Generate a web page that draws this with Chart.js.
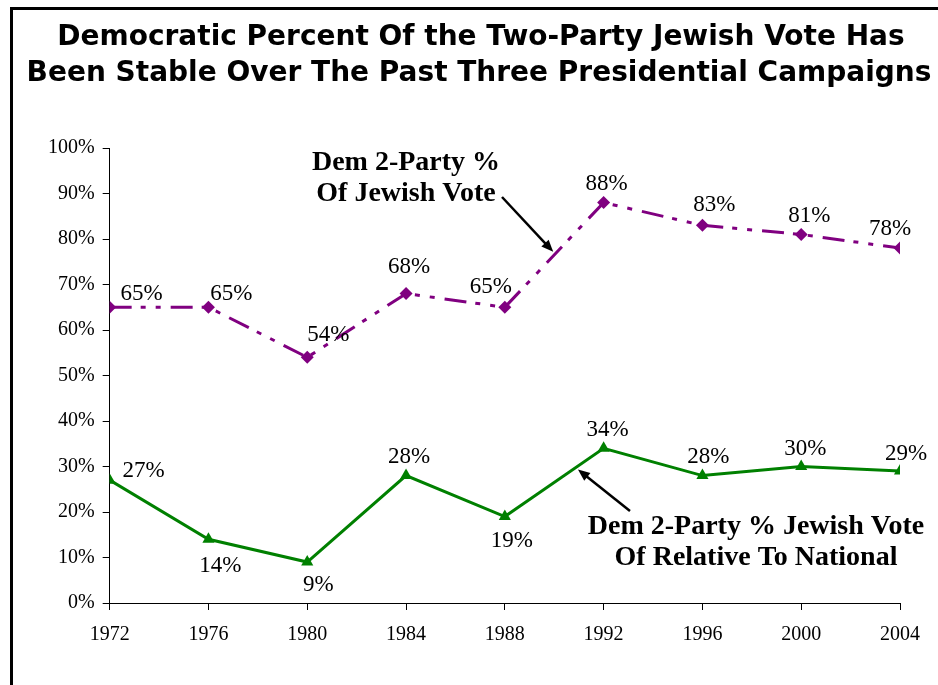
<!DOCTYPE html>
<html>
<head>
<meta charset="utf-8">
<script src="https://cdn.jsdelivr.net/npm/chart.js@4.4.0/dist/chart.umd.min.js"></script>
<style>
  html, body { margin: 0; padding: 0; background: #fff; }
  #wrap { position: relative; width: 938px; height: 685px; }
</style>
</head>
<body>
<div id="wrap"><canvas id="chart" width="938" height="685"></canvas></div>
<script>
// data
const years = [1972, 1976, 1980, 1984, 1988, 1992, 1996, 2000, 2004];
const jewishDem = [65, 65, 54, 68, 65, 88, 83, 81, 78];
const relativeToNational = [27, 14, 9, 28, 19, 34, 28, 30, 29];
const yTicks = [0, 10, 20, 30, 40, 50, 60, 70, 80, 90, 100];

const titleLines = [
  'Democratic Percent Of the Two-Party Jewish Vote Has',
  'Been Stable Over The Past Three Presidential Campaigns'
];

// label placement per point: [dx, dy] offsets from the marker (layout only)
const purpleLabelPos = [[32, -13], [23, -13], [21, -22], [3, -27], [-14, -20], [3, -19], [12, -20], [8, -18], [-10, -19]];
const greenLabelPos = [[34, -9], [12, 27], [11, 23], [3, -19], [7, 24], [4, -18], [6, -19], [4, -18], [6, -17]];

const PURPLE = '#800080';
const GREEN = '#008000';

const decorPlugin = {
  id: 'decor',
  beforeDraw(chart) {
    const ctx = chart.ctx;
    ctx.save();
    ctx.fillStyle = '#fff';
    ctx.fillRect(0, 0, chart.width, chart.height);
    // frame on top and left
    ctx.fillStyle = '#000';
    ctx.fillRect(10, 7, chart.width - 10, 3);
    ctx.fillRect(10, 7, 3, chart.height - 7);
    // title
    ctx.font = 'bold 28px "DejaVu Sans", Verdana, sans-serif';
    ctx.textAlign = 'center';
    ctx.textBaseline = 'middle';
    ctx.fillText(titleLines[0], 481, 38);
    ctx.fillText(titleLines[1], 479, 74);
    ctx.restore();
  },
  afterDatasetsDraw(chart) {
    const ctx = chart.ctx;
    const xs = chart.scales.x, ys = chart.scales.y;
    ctx.save();
    ctx.fillStyle = '#000';
    ctx.font = '23px "Liberation Serif", "Times New Roman", serif';
    ctx.textAlign = 'center';
    ctx.textBaseline = 'middle';
    years.forEach((yr, i) => {
      const x = xs.getPixelForValue(yr);
      let p = purpleLabelPos[i];
      ctx.fillText(jewishDem[i] + '%', x + p[0], ys.getPixelForValue(jewishDem[i]) + p[1]);
      p = greenLabelPos[i];
      ctx.fillText(relativeToNational[i] + '%', x + p[0], ys.getPixelForValue(relativeToNational[i]) + p[1]);
    });

    // annotations
    ctx.font = 'bold 28px "Liberation Serif", "Times New Roman", serif';
    ctx.fillText('Dem 2-Party %', 406, 163);
    ctx.fillText('Of Jewish Vote', 406, 194);
    ctx.fillText('Dem 2-Party % Jewish Vote', 756, 527);
    ctx.fillText('Of Relative To National', 756, 558);

    // arrows pointing at the lines between 1988 and 1992
    const interp = (arr, t) => arr[4] + (arr[5] - arr[4]) * t;
    const ax1 = xs.getPixelForValue(1988 + 4 * 0.52);
    const ay1 = ys.getPixelForValue(interp(jewishDem, 0.52));
    drawArrow(ctx, 502, 197, ax1 - 3, ay1 - 1);
    const ax2 = xs.getPixelForValue(1988 + 4 * 0.72);
    const ay2 = ys.getPixelForValue(interp(relativeToNational, 0.72));
    drawArrow(ctx, 630, 511, ax2 + 2, ay2 + 2);
    ctx.restore();
  }
};

function drawArrow(ctx, x1, y1, x2, y2) {
  const a = Math.atan2(y2 - y1, x2 - x1);
  const len = 12, w = 5;
  ctx.strokeStyle = '#000';
  ctx.fillStyle = '#000';
  ctx.lineWidth = 2.5;
  ctx.beginPath();
  ctx.moveTo(x1, y1);
  ctx.lineTo(x2 - Math.cos(a) * len * 0.8, y2 - Math.sin(a) * len * 0.8);
  ctx.stroke();
  ctx.beginPath();
  ctx.moveTo(x2, y2);
  ctx.lineTo(x2 - Math.cos(a) * len - Math.sin(a) * w, y2 - Math.sin(a) * len + Math.cos(a) * w);
  ctx.lineTo(x2 - Math.cos(a) * len + Math.sin(a) * w, y2 - Math.sin(a) * len - Math.cos(a) * w);
  ctx.closePath();
  ctx.fill();
}

const tickFont = { family: '"Liberation Serif", "Times New Roman", serif', size: 20 };

new Chart(document.getElementById('chart'), {
  type: 'line',
  data: {
    datasets: [
      {
        label: 'Dem 2-Party % Of Jewish Vote',
        data: years.map((y, i) => ({ x: y, y: jewishDem[i] })),
        borderColor: PURPLE,
        backgroundColor: PURPLE,
        borderWidth: 3,
        borderDash: [22, 9, 5, 10, 5, 10],
        pointStyle: 'rectRot',
        pointRadius: 6.5,
        pointBorderWidth: 0,
        tension: 0
      },
      {
        label: 'Dem 2-Party % Jewish Vote Of Relative To National',
        data: years.map((y, i) => ({ x: y, y: relativeToNational[i] })),
        borderColor: GREEN,
        backgroundColor: GREEN,
        borderWidth: 3,
        pointStyle: 'triangle',
        pointRadius: 7,
        pointBorderWidth: 0,
        tension: 0
      }
    ]
  },
  options: {
    responsive: false,
    animation: false,
    layout: { padding: { left: 40, right: 38, top: 148, bottom: 25 } },
    plugins: {
      legend: { display: false },
      title: { display: false },
      tooltip: { enabled: false }
    },
    scales: {
      x: {
        type: 'linear',
        min: years[0],
        max: years[years.length - 1],
        afterBuildTicks: axis => { axis.ticks = years.map(v => ({ value: v })); },
        ticks: { color: '#000', font: tickFont, padding: 13, maxRotation: 0, callback: v => String(v) },
        grid: { drawOnChartArea: false, color: '#000', tickLength: 7 },
        border: { color: '#000', width: 1 }
      },
      y: {
        min: 0,
        max: 100,
        afterBuildTicks: axis => { axis.ticks = yTicks.map(v => ({ value: v })); },
        ticks: { color: '#000', font: tickFont, padding: 8, callback: v => v + '%' },
        grid: { drawOnChartArea: false, color: '#000', tickLength: 7 },
        border: { color: '#000', width: 1 }
      }
    }
  },
  plugins: [decorPlugin]
});
</script>
</body>
</html>
